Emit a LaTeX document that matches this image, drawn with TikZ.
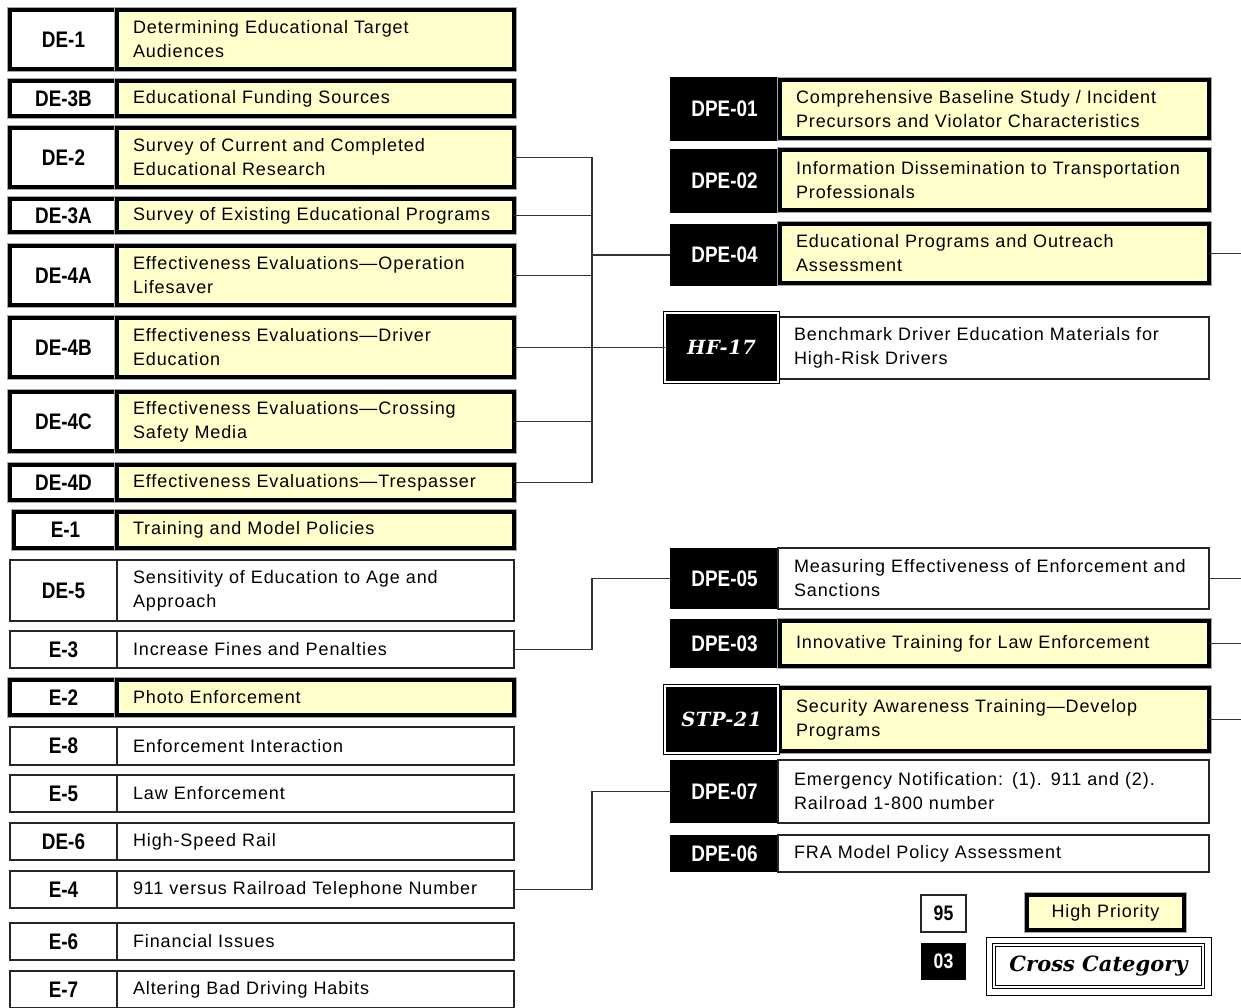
\documentclass[tikz,border=0pt]{standalone}
\usepackage{fontspec}
\setmainfont{Liberation Sans}[LetterSpace=5]
\newfontfamily\labfont{Liberation Sans}[FakeStretch=0.84]
\newfontfamily\hffont{DejaVu Serif}[LetterSpace=3]
\newfontfamily\ccfont{DejaVu Serif}
\definecolor{hpyellow}{HTML}{FFFFCC}
\tikzset{
  every node/.style={outer sep=0pt},
  base/.style={rectangle, inner sep=0pt, anchor=north west},
  thinb/.style={draw=black!85, line width=1.3pt},
  thickb/.style={draw=black, line width=3.8pt, preaction={draw=black!35, line width=5.4pt}},
  labw/.style={fill=white, font=\labfont\bfseries\fontsize{22.5}{24}\selectfont},
  labb/.style={fill=black, text=white, font=\labfont\bfseries\fontsize{22.5}{24}\selectfont},
  txtw/.style={fill=white, font=\fontsize{18}{24}\selectfont, align=left, inner xsep=16pt},
  txty/.style={fill=hpyellow, font=\fontsize{18}{24}\selectfont, align=left, inner xsep=16pt},
  dbl/.style={fill=black, draw=black, double=white, double distance=2.4pt, line width=1.2pt, text=white,
    font=\hffont\bfseries\itshape\fontsize{19.5}{24}\selectfont},
  wire/.style={draw=black!80, line width=1.3pt},
}
\newcommand\bx[7]{\node[base,#6,minimum width={#4-(#2)},minimum height={#5-(#3)}] (#1) at (#2,#3) {#7};}
\newcommand\tb[7]{\node[base,#6,minimum width={#4-(#2)},minimum height={#5-(#3)},text width={#4-(#2)-32}] (#1) at (#2,#3) {#7};}
\begin{document}
\begin{tikzpicture}[x=1pt,y=-1pt]
\useasboundingbox (0,0) rectangle (1241,1007);
\clip (0,0) rectangle (1241,1007);
\coordinate (bus) at (592,0);
\coordinate (redge) at (1241,0);
% ---- left column, high priority
\bx{de1l}{10}{10}{117}{69}{thickb,labw}{DE-1}
\tb{de1}{117}{10}{514}{69}{thickb,txty}{Determining Educational Target\\Audiences}
\bx{de3bl}{10}{81}{117}{116}{thickb,labw}{DE-3B}
\tb{de3b}{117}{81}{514}{116}{thickb,txty}{Educational Funding Sources}
\bx{de2l}{10}{128}{117}{187}{thickb,labw}{DE-2}
\tb{de2}{117}{128}{514}{187}{thickb,txty}{Survey of Current and Completed\\Educational Research}
\bx{de3al}{10}{199}{117}{232}{thickb,labw}{DE-3A}
\tb{de3a}{117}{199}{514}{232}{thickb,txty}{Survey of Existing Educational Programs}
\bx{de4al}{10}{246}{117}{305}{thickb,labw}{DE-4A}
\tb{de4a}{117}{246}{514}{305}{thickb,txty}{Effectiveness Evaluations---Operation\\Lifesaver}
\bx{de4bl}{10}{318}{117}{377}{thickb,labw}{DE-4B}
\tb{de4b}{117}{318}{514}{377}{thickb,txty}{Effectiveness Evaluations---Driver\\Education}
\bx{de4cl}{10}{392}{117}{451}{thickb,labw}{DE-4C}
\tb{de4c}{117}{392}{514}{451}{thickb,txty}{Effectiveness Evaluations---Crossing\\Safety Media}
\bx{de4dl}{10}{465}{117}{500}{thickb,labw}{DE-4D}
\tb{de4d}{117}{465}{514}{500}{thickb,txty}{Effectiveness Evaluations---Trespasser}
\bx{e1l}{14}{512}{117}{548}{thickb,labw}{E-1}
\tb{e1}{117}{512}{514}{548}{thickb,txty}{Training and Model Policies}
% ---- left column, others
\bx{de5l}{10}{560}{117}{621}{thinb,labw}{DE-5}
\tb{de5}{117}{560}{514}{621}{thinb,txtw}{Sensitivity of Education to Age and\\Approach}
\bx{e3l}{10}{631}{117}{668}{thinb,labw}{E-3}
\tb{e3}{117}{631}{514}{668}{thinb,txtw}{Increase Fines and Penalties}
\bx{e2l}{10}{680}{117}{715}{thickb,labw}{E-2}
\tb{e2}{117}{680}{514}{715}{thickb,txty}{Photo Enforcement}
\bx{e8l}{10}{727}{117}{765}{thinb,labw}{E-8}
\tb{e8}{117}{727}{514}{765}{thinb,txtw}{Enforcement Interaction}
\bx{e5l}{10}{775}{117}{812}{thinb,labw}{E-5}
\tb{e5}{117}{775}{514}{812}{thinb,txtw}{Law Enforcement}
\bx{de6l}{10}{823}{117}{860}{thinb,labw}{DE-6}
\tb{de6}{117}{823}{514}{860}{thinb,txtw}{High-Speed Rail}
\bx{e4l}{10}{871}{117}{908}{thinb,labw}{E-4}
\tb{e4}{117}{871}{514}{908}{thinb,txtw}{911 versus Railroad Telephone Number}
\bx{e6l}{10}{923}{117}{960}{thinb,labw}{E-6}
\tb{e6}{117}{923}{514}{960}{thinb,txtw}{Financial Issues}
\bx{e7l}{10}{971}{117}{1008}{thinb,labw}{E-7}
\tb{e7}{117}{971}{514}{1008}{thinb,txtw}{Altering Bad Driving Habits}
% ---- right column
\bx{dpe01l}{670}{77}{779}{141}{labb}{DPE-01}
\tb{dpe01}{780}{80}{1209}{138}{thickb,txty}{Comprehensive Baseline Study / Incident\\Precursors and Violator Characteristics}
\bx{dpe02l}{670}{149}{779}{213}{labb}{DPE-02}
\tb{dpe02}{780}{150}{1209}{210}{thickb,txty}{Information Dissemination to Transportation\\Professionals}
\bx{dpe04l}{670}{224}{779}{286}{labb}{DPE-04}
\tb{dpe04}{780}{224}{1209}{283}{thickb,txty}{Educational Programs and Outreach\\Assessment}
\tb{hf17}{778}{317}{1209}{379}{thinb,txtw}{Benchmark Driver Education Materials for\\High-Risk Drivers}
\bx{hf17l}{665}{313}{778}{382}{dbl}{HF-17}
\bx{dpe05l}{670}{548}{779}{609}{labb}{DPE-05}
\tb{dpe05}{778}{548}{1209}{609}{thinb,txtw}{Measuring Effectiveness of Enforcement and\\Sanctions}
\bx{dpe03l}{670}{619}{779}{668}{labb}{DPE-03}
\tb{dpe03}{780}{621}{1209}{666}{thickb,txty}{Innovative Training for Law Enforcement}
\tb{stp21}{780}{688}{1209}{751}{thickb,txty}{Security Awareness Training---Develop\\Programs}
\bx{stp21l}{665}{686}{778}{753}{dbl}{STP-21}
\bx{dpe07l}{670}{760}{779}{823}{labb}{DPE-07}
\tb{dpe07}{778}{760}{1209}{823}{thinb,txtw}{Emergency Notification: (1). 911 and (2).\\Railroad 1-800 number}
\bx{dpe06l}{670}{835}{779}{872}{labb}{DPE-06}
\tb{dpe06}{778}{835}{1209}{872}{thinb,txtw}{FRA Model Policy Assessment}
% ---- legend
\bx{k95}{921}{895}{966}{932}{thinb,fill=white,font=\labfont\bfseries\fontsize{21}{24}\selectfont}{95}
\bx{k03}{921}{943}{966}{980}{labb,font=\labfont\bfseries\fontsize{21}{24}\selectfont}{03}
\bx{khp}{1027}{895}{1184}{930}{thickb,fill=hpyellow,font=\fontsize{18}{24}\selectfont}{High Priority}
\bx{kccf}{986}{937}{1211}{995}{draw=black, line width=1pt, fill=white}{}
\bx{kcc}{994}{945}{1203}{987}{draw=black, double=white, double distance=2pt, line width=1.4pt, fill=white,
  font=\ccfont\bfseries\itshape\fontsize{21}{24}\selectfont}{Cross Category}
% ---- connectors
\draw[wire] (de2.east) -- (de2.east -| bus) -- (bus |- de4d.east) -- (de4d.east);
\draw[wire] (de3a.east) -- (de3a.east -| bus);
\draw[wire] (de4a.east) -- (de4a.east -| bus);
\draw[wire] (de4c.east) -- (de4c.east -| bus);
\draw[wire] (bus |- dpe04l.west) -- (dpe04l.west);
\draw[wire] (de4b.east) -- (hf17l.west);
\draw[wire] (e3.east) -| (bus |- dpe05l.west) -- (dpe05l.west);
\draw[wire] (e4.east) -| (bus |- dpe07l.west) -- (dpe07l.west);
\draw[wire] (dpe04.east) -- (dpe04.east -| redge);
\draw[wire] (dpe05.east) -- (dpe05.east -| redge);
\draw[wire] (dpe03.east) -- (dpe03.east -| redge);
\draw[wire] (stp21.east) -- (stp21.east -| redge);
\end{tikzpicture}
\end{document}
